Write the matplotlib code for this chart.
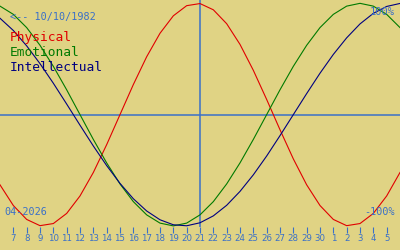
import matplotlib
matplotlib.use("Agg")
import matplotlib.pyplot as plt

# day labels along the bottom (April 7 .. May 5, 2026)
day_labels = [str(d) for d in range(7, 31)] + [str(d) for d in range(1, 6)]
# curve samples from one day before the first label to one day after the last
days = list(range(-1, 30))

physical = [-0.631, -0.817, -0.942, -0.998, -0.979, -0.888, -0.731, -0.520,
            -0.270, 0.0, 0.270, 0.520, 0.731, 0.888, 0.979, 0.998,
            0.942, 0.817, 0.631, 0.398, 0.136, -0.136, -0.398, -0.631,
            -0.817, -0.942, -0.998, -0.979, -0.888, -0.731, -0.520]
emotional = [0.975, 0.901, 0.782, 0.623, 0.434, 0.223, 0.0, -0.223,
             -0.434, -0.623, -0.782, -0.901, -0.975, -1.0, -0.975, -0.901,
             -0.782, -0.623, -0.434, -0.223, 0.0, 0.223, 0.434, 0.623,
             0.782, 0.901, 0.975, 1.0, 0.975, 0.901, 0.782]
intellectual = [0.866, 0.756, 0.618, 0.458, 0.282, 0.095, -0.095, -0.282,
                -0.458, -0.618, -0.756, -0.866, -0.945, -0.990, -0.999, -0.972,
                -0.910, -0.815, -0.690, -0.541, -0.372, -0.189, 0.0, 0.189,
                0.372, 0.541, 0.690, 0.815, 0.910, 0.972, 0.999]
today_index = 14  # the 21st

bg = "#e0d384"
blue = "#3a70c8"
red = "#e00000"
green = "#007a00"
navy = "#000080"
mono = "DejaVu Sans Mono"

fig = plt.figure(figsize=(4, 2.5), dpi=100, facecolor=bg)
ax = fig.add_axes([0, 23 / 250, 1, 227 / 250])
ax.set_facecolor(bg)
ax.set_xlim(-1, 29)
ax.set_ylim(-1.01, 1.03)

ax.axhline(0, color=blue, lw=1.1)
ax.axvline(today_index, color=blue, lw=1.1)

ax.plot(days, physical, color=red, lw=0.8)
ax.plot(days, emotional, color=green, lw=0.8)
ax.plot(days, intellectual, color=navy, lw=0.8)

for s in ax.spines.values():
    s.set_visible(False)
ax.set_yticks([])
ax.set_xticks(range(len(day_labels)))
ax.set_xticklabels(day_labels)
ax.tick_params(axis="x", direction="out", length=4, width=0.8, color=blue,
               labelcolor=blue, labelsize=6.2, pad=1)

def label(x, y, s, color, size, ha="left"):
    ax.text(x / 400, 1 - y / 227, s, transform=ax.transAxes, family=mono,
            fontsize=size, color=color, va="center", ha=ha)

label(10, 17, "<-- 10/10/1982", blue, 7.3)
label(10, 38, "Physical", red, 9.3)
label(10, 53, "Emotional", green, 9.3)
label(10, 67, "Intellectual", navy, 9.3)
label(395, 12, "100%", blue, 7.5, ha="right")
label(395, 212, "-100%", blue, 7.3, ha="right")
label(4, 212, "04-2026", blue, 7.3)

fig.savefig("out.png", dpi=100, facecolor=bg)
